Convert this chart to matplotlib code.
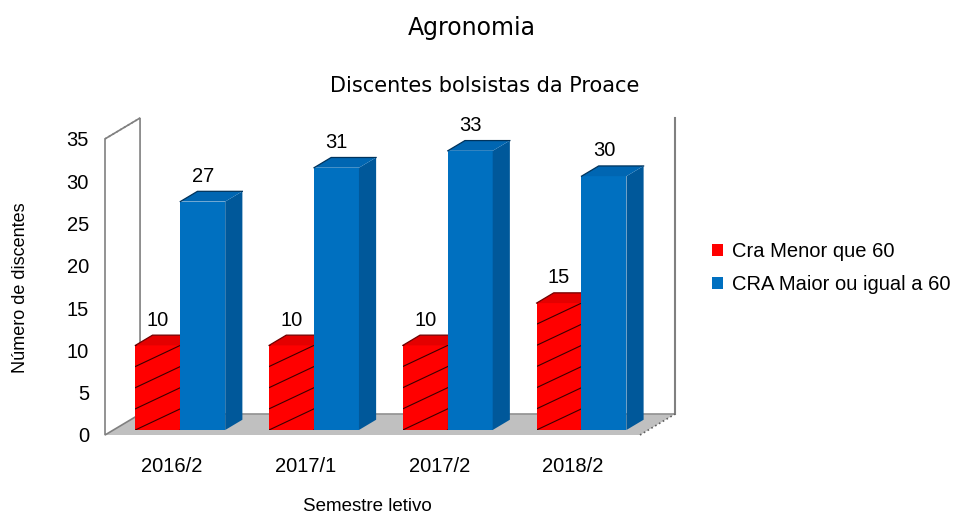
import matplotlib
matplotlib.use('Agg')
import matplotlib.pyplot as plt
from matplotlib.patches import Polygon, Patch

plt.rcParams['font.family'] = ['Liberation Sans', 'DejaVu Sans']

semestres = ['2016/2', '2017/1', '2017/2', '2018/2']
cra_menor = [10, 10, 10, 15]
cra_maior = [27, 31, 33, 30]
series_names = ['Cra Menor que 60', 'CRA Maior ou igual a 60']
y_ticks = [0, 5, 10, 15, 20, 25, 30, 35]

title = 'Agronomia'
subtitle = 'Discentes bolsistas da Proace'
x_label = 'Semestre letivo'
y_label = 'Número de discentes'

# fake 3d: depth of the whole box in data units, bars sit between T0 and T1
DX, DY = 0.262, 2.47
T0, T1 = 0.24, 0.73
BAR_W = 0.336

RED = dict(front='#FF0000', side='#C00000', top='#E40000', edge='#700000')
BLUE = dict(front='#0070C0', side='#00589A', top='#0066B2', edge='#00335C')


def draw_bar(ax, x0, value, c, z, hatch=False):
    ox0, oy0 = T0 * DX, T0 * DY
    ddx, ddy = (T1 - T0) * DX, (T1 - T0) * DY
    xl, xr = x0 + ox0, x0 + BAR_W + ox0
    yb, yt = oy0, value + oy0
    front = Polygon([(xl, yb), (xr, yb), (xr, yt), (xl, yt)],
                    fc=c['front'], ec='none', zorder=z)
    side = Polygon([(xr, yb), (xr + ddx, yb + ddy), (xr + ddx, yt + ddy), (xr, yt)],
                   fc=c['side'], ec='none', zorder=z)
    top = Polygon([(xl, yt), (xr, yt), (xr + ddx, yt + ddy), (xl + ddx, yt + ddy)],
                  fc=c['top'], ec='none', zorder=z)
    for p in (front, side, top):
        ax.add_patch(p)
    ax.plot([xl, xl + ddx, xr + ddx], [yt, yt + ddy, yt + ddy],
            color=c['edge'], lw=0.9, zorder=z + 0.1)
    if hatch:
        h = 2.5
        for k in range(-1, int(value / h) + 2):
            ln, = ax.plot([xl, xr], [yb + k * h, yb + (k + 1) * h],
                          color='#3A0000', lw=0.8, zorder=z + 0.1)
            ln.set_clip_path(front)
    ax.annotate(str(value), (xl + BAR_W / 2, yt + ddy), xytext=(0, 4),
                textcoords='offset points', ha='center', va='bottom',
                fontsize=14.5, annotation_clip=False, zorder=20)


fig = plt.figure(figsize=(9.71, 5.16), dpi=100)
ax = fig.add_axes([105 / 971, 81 / 516, 570 / 971, 317 / 516])
top_v = y_ticks[-1]
n = len(semestres)
ax.set_xlim(-0.5, n - 0.5 + DX)
ax.set_ylim(0, top_v + DY)

# floor and walls
ax.add_patch(Polygon([(-0.5, 0), (n - 0.5, 0), (n - 0.5 + DX, DY), (-0.5 + DX, DY)],
                     fc='#C0C0C0', ec='none', clip_on=False, zorder=0.5))
ax.add_patch(Polygon([(-0.5, 0), (-0.5 + DX, DY), (-0.5 + DX, top_v + DY), (-0.5, top_v)],
                     fc='white', ec='#808080', lw=1.2, clip_on=False, zorder=0.6))
ax.plot([-0.5, -0.5 + DX], [top_v, top_v + DY], color='#808080', lw=1.2, ls=':',
        clip_on=False, zorder=0.7)
ax.plot([-0.5 + DX, n - 0.5 + DX], [DY, DY], color='#909090', lw=1.2,
        clip_on=False, zorder=0.7)
ax.plot([n - 0.5 + DX] * 2, [DY, top_v + DY], color='#808080', lw=1.5,
        clip_on=False, zorder=0.7)
ax.plot([n - 0.5, n - 0.5 + DX], [0, DY], color='#606060', lw=1.2, ls=':',
        clip_on=False, zorder=0.7)

z = 2
for i in range(n):
    draw_bar(ax, i - BAR_W, cra_menor[i], RED, z, hatch=True)
    draw_bar(ax, i, cra_maior[i], BLUE, z + 1)
    z += 2

for s in ax.spines.values():
    s.set_visible(False)
ax.set_yticks(y_ticks)
ax.set_xticks(range(n))
ax.set_xticklabels(semestres)
ax.tick_params(axis='y', length=0, pad=11.5, labelsize=14.5)
ax.tick_params(axis='x', length=0, pad=15.5, labelsize=14.5)

ax.set_xlabel(x_label, fontsize=13.5)
ax.xaxis.set_label_coords(0.46, -0.199)
ax.set_ylabel(y_label, fontsize=13)
ax.yaxis.set_label_coords(-0.134, 0.464)

fig.text(472 / 971, 1 - 28 / 516, title, ha='center', va='center',
         fontsize=17, family='DejaVu Sans')
fig.text(485 / 971, 1 - 86 / 516, subtitle, ha='center', va='center',
         fontsize=15, family='DejaVu Sans')

handles = [Patch(fc=RED['front']), Patch(fc=BLUE['front'])]
fig.legend(handles, series_names, loc='center left',
           bbox_to_anchor=(712 / 971, 1 - 268 / 516), frameon=False,
           fontsize=14.5, handlelength=0.55, handleheight=0.55,
           handletextpad=0.45, labelspacing=0.72, borderpad=0, borderaxespad=0)

fig.savefig('out.png', dpi=100)
